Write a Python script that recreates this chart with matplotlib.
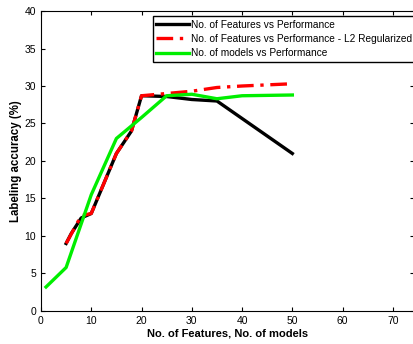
import matplotlib.pyplot as plt
import numpy as np

plt.rcParams['font.family'] = ['Liberation Sans', 'DejaVu Sans']

# No. of features vs performance
feat_x = [5, 6, 8, 10, 15, 18, 20, 25, 30, 35, 50]
feat_y = [9.0, 10.3, 12.4, 13.0, 21.0, 24.0, 28.7, 28.6, 28.2, 28.0, 21.0]

# L2 regularized
reg_x = [5, 8, 10, 15, 18, 20, 25, 30, 35, 40, 50]
reg_y = [9.0, 12.7, 13.0, 21.0, 24.0, 28.7, 29.0, 29.3, 29.8, 30.0, 30.3]

# No. of models vs performance
mod_x = [1, 5, 10, 15, 20, 25, 30, 35, 40, 50]
mod_y = [3.2, 5.8, 15.5, 23.0, 25.8, 28.7, 28.9, 28.3, 28.7, 28.8]

labels = ["No. of Features vs Performance",
          "No. of Features vs Performance - L2 Regularized",
          "No. of models vs Performance"]

fig = plt.figure(figsize=(4.14, 3.44), dpi=100)
ax = fig.add_axes([0.099, 0.096, 0.901, 0.872])

ax.plot(feat_x, feat_y, color='black', lw=2.4, label=labels[0])
ax.plot(reg_x, reg_y, color='red', lw=2.4, linestyle=(0, (5, 2, 1, 2)), label=labels[1])
ax.plot(mod_x, mod_y, color='#00ee00', lw=2.4, label=labels[2])

ax.set_xlim(0, 74.2)
ax.set_ylim(0, 40)
ax.set_xticks(np.arange(0, 71, 10))
ax.set_yticks(np.arange(0, 41, 5))
ax.tick_params(direction='in', top=True, right=True, labelsize=7.5, length=3)

ax.set_xlabel("No. of Features, No. of models", fontsize=8, fontweight='bold', labelpad=2)
ax.set_ylabel("Labeling accuracy (%)", fontsize=8.3, fontweight='bold', labelpad=2)

leg = ax.legend(loc='upper left', bbox_to_anchor=(0.30, 0.983), fontsize=7.3,
                handlelength=3.2, handletextpad=0.25, borderpad=0.35,
                labelspacing=0.42, borderaxespad=0, fancybox=False, framealpha=1)
leg.get_frame().set_edgecolor('black')
leg.get_frame().set_linewidth(1.0)

fig.savefig("out.png", dpi=100)
